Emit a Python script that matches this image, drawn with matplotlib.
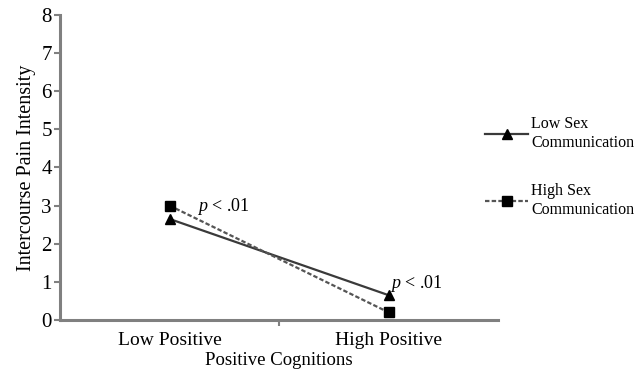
import matplotlib.pyplot as plt
from matplotlib.ticker import FixedLocator

plt.rcParams['font.family'] = ['Liberation Serif', 'DejaVu Serif']
plt.rcParams['mathtext.fontset'] = 'custom'
plt.rcParams['mathtext.it'] = 'Liberation Serif:italic'
plt.rcParams['mathtext.rm'] = 'Liberation Serif'

categories = ["Low Positive", "High Positive"]
low_sex_comm = [2.65, 0.65]
high_sex_comm = [3.0, 0.2]
y_ticks = [0, 1, 2, 3, 4, 5, 6, 7, 8]

fig = plt.figure(figsize=(6.42, 3.74), dpi=100)
ax = fig.add_axes([0.0935, 0.1444, 0.6825, 0.8156])

xpos = [0.5, 1.5]
ax.plot(xpos, low_sex_comm, color='#3a3a3a', lw=1.6, marker='^', ms=7.5,
        markerfacecolor='black', markeredgecolor='black',
        label='Low Sex\nCommunication')
ax.plot(xpos, high_sex_comm, color='#555555', lw=1.6, ls=(0, (2, 1)), marker='s', ms=7.5,
        markerfacecolor='black', markeredgecolor='black',
        label='High Sex\nCommunication')

ax.text(0.625, 2.85, r'$p$ < .01', fontsize=13, ha='left', va='baseline')
ax.text(1.505, 0.85, r'$p$ < .01', fontsize=13, ha='left', va='baseline')

ax.set_xlim(0, 2)
ax.set_ylim(0, 8)
ax.set_xticks(xpos)
ax.set_xticklabels(categories, fontsize=14)
ax.xaxis.set_minor_locator(FixedLocator([1.0]))
ax.tick_params(axis='x', which='major', length=0, pad=9)
ax.tick_params(axis='x', which='minor', length=4, width=1.5, color='#808080', direction='out')
ax.set_yticks(y_ticks)
ax.tick_params(axis='y', labelsize=15, length=4, width=1.5, color='#808080', pad=2)

for side in ['top', 'right']:
    ax.spines[side].set_visible(False)
for side in ['left', 'bottom']:
    ax.spines[side].set_color('#808080')
    ax.spines[side].set_linewidth(2.2)

ax.set_xlabel("Positive Cognitions", fontsize=13.5, labelpad=2)
ax.set_ylabel("Intercourse Pain Intensity", fontsize=14.5, labelpad=4)

leg = fig.legend(loc='upper left', bbox_to_anchor=(0.738, 0.72), frameon=False,
                 fontsize=11.5, handlelength=2.7, handletextpad=0.2, labelspacing=2.0,
                 markerscale=0.9, borderpad=0.2)
for t in leg.get_texts():
    t.set_linespacing(1.25)

fig.savefig("out.png", dpi=100)
